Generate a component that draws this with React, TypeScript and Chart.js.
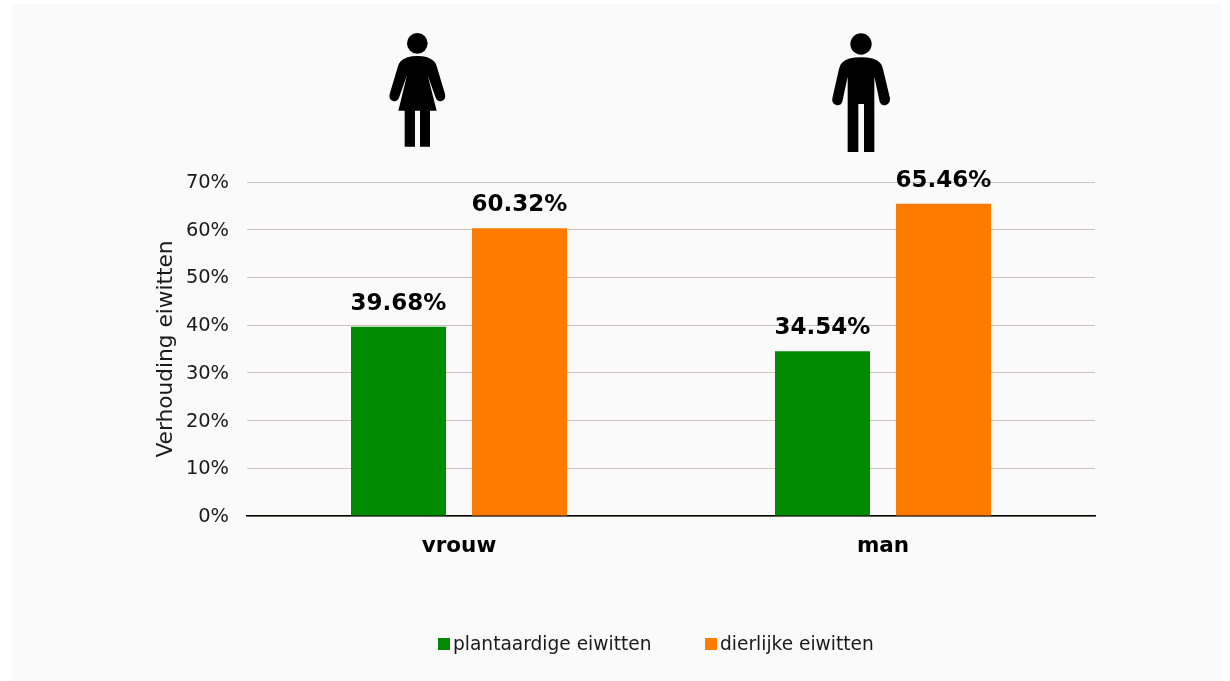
import React, { useEffect, useRef } from "react";
import { Chart, registerables } from "chart.js";

Chart.register(...registerables);

const categories = ["vrouw", "man"];
const seriesNames = ["plantaardige eiwitten", "dierlijke eiwitten"];
const plantValues = [39.68, 34.54];
const animalValues = [60.32, 65.46];
const seriesColors = ["#008a00", "#ff7b00"];
const FONT = "'DejaVu Sans', sans-serif";

const valueLabels = {
  id: "valueLabels",
  beforeDraw(chart: any) {
    // nudge the y tick labels down one pixel
    chart.scales.y.getLabelItems().forEach((item: any) => {
      if (!item.nudged) {
        item.options.translation = [item.options.translation[0], item.options.translation[1] + 1];
        item.nudged = true;
      }
    });
  },
  afterDatasetsDraw(chart: any) {
    const { ctx } = chart;
    ctx.save();
    ctx.font = `bold 23px ${FONT}`;
    ctx.fillStyle = "#000";
    ctx.textAlign = "center";
    ctx.textBaseline = "alphabetic";
    chart.data.datasets.forEach((ds: any, i: number) => {
      chart.getDatasetMeta(i).data.forEach((bar: any, j: number) => {
        ctx.fillText(ds.data[j].toFixed(2) + "%", bar.x, bar.y - 17);
      });
    });
    ctx.restore();
  },
};

const FEMALE =
  "M92,124 Q108,108 142,108 Q176,108 192,124 Q198,130 201,142 L225,222 Q229,238 215,243 Q203,246 197,233 L173,166 L200,272 L180,272 L180,380 L150,380 L150,272 L135,272 L135,380 L104,380 L104,272 L85,272 L111,166 L87,233 Q81,246 69,243 Q55,238 59,222 L83,142 Q86,130 92,124 Z";
const MALE =
  "M153,112 Q194,112 210,128 Q217,134 219,147 L240,235 Q241,250 228,255 Q214,258 209,245 L193,170 L193,396 L162,396 L162,252 L145,252 L145,396 L113,396 L113,170 L97,245 Q92,258 78,255 Q65,250 67,235 L87,147 Q89,134 96,128 Q112,112 153,112 Z";

function Icon({ left, path, cx, cy, r }: { left: number; path: string; cx: number; cy: number; r: number }) {
  return (
    <svg
      width={100}
      height={140}
      viewBox="0 0 300 420"
      style={{ position: "absolute", left, top: 20 }}
    >
      <circle cx={cx} cy={cy} r={r} fill="#000" />
      <path d={path} fill="#000" />
    </svg>
  );
}

export default function App() {
  const ref = useRef<HTMLCanvasElement>(null);
  useEffect(() => {
    document.body.style.margin = "0";
    document.body.style.overflow = "hidden";
    const chart = new Chart(ref.current!, {
      type: "bar",
      data: {
        labels: categories,
        datasets: [
          { label: seriesNames[0], data: plantValues, backgroundColor: seriesColors[0] },
          { label: seriesNames[1], data: animalValues, backgroundColor: seriesColors[1] },
        ],
      },
      options: {
        responsive: false,
        animation: false,
        layout: { padding: { left: 153, top: 182, right: 135, bottom: 125 } },
        datasets: { bar: { categoryPercentage: 0.5708, barPercentage: 0.785 } },
        plugins: { legend: { display: false }, tooltip: { enabled: false } },
        scales: {
          x: {
            grid: { display: false, drawTicks: false },
            border: { color: "#000", width: 1.5 },
            ticks: { color: "#000", padding: 18, font: { family: FONT, size: 21.5, weight: "bold" } },
            afterFit(s: any) { s.height = 40; },
          },
          y: {
            min: 0,
            max: 70,
            grid: { color: "#c8c5b8", drawTicks: false },
            border: { display: false },
            ticks: {
              stepSize: 10,
              color: "#1a1a1a",
              padding: 18,
              font: { family: FONT, size: 19.4 },
              callback: (v: any) => v + "%",
            },
            title: {
              display: true,
              text: "Verhouding eiwitten",
              color: "#1a1a1a",
              font: { family: FONT, size: 21.7 },
              padding: { top: 0, bottom: 0 },
            },
            afterFit(s: any) { s.width = 94; },
          },
        },
      },
      plugins: [valueLabels],
    } as any);
    return () => chart.destroy();
  }, []);

  return (
    <div style={{ position: "relative", width: 1230, height: 681, background: "#fff", overflow: "hidden" }}>
      <div style={{ position: "absolute", left: 12, top: 4, width: 1210, height: 677, background: "#fafafa" }} />
      <canvas ref={ref} width={1230} height={681} style={{ position: "absolute", left: 0, top: 0 }} />
      <Icon left={370} path={FEMALE} cx={142} cy={70} r={31} />
      <Icon left={810} path={MALE} cx={153} cy={72} r={32} />
      {seriesNames.map((name, i) => (
        <div
          key={name}
          style={{
            position: "absolute",
            left: i === 0 ? 438 : 705,
            top: 631,
            display: "flex",
            alignItems: "center",
            height: 24,
            fontFamily: FONT,
            fontSize: 18.6,
            color: "#1a1a1a",
            whiteSpace: "nowrap",
          }}
        >
          <span style={{ width: 12, height: 12, background: seriesColors[i], marginRight: 3, marginTop: 2 }} />
          {name}
        </div>
      ))}
    </div>
  );
}
